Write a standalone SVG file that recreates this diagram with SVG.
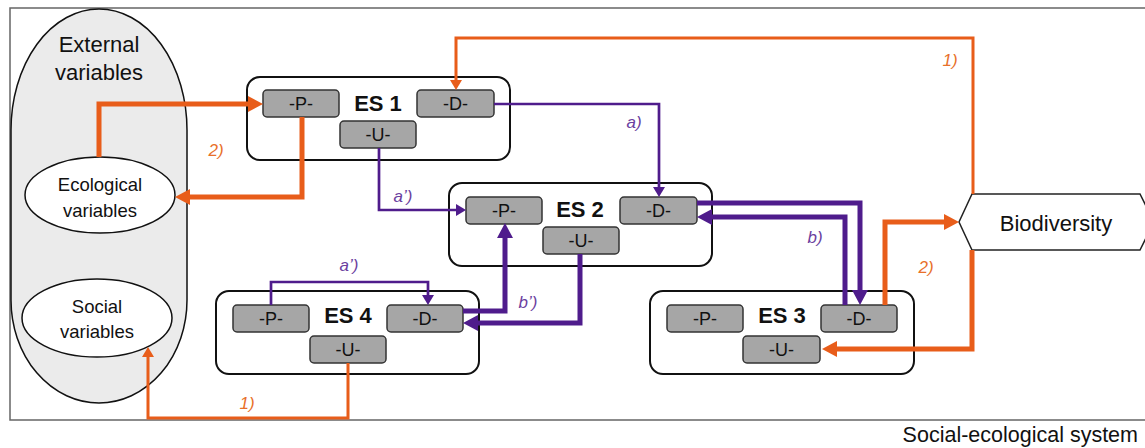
<svg xmlns="http://www.w3.org/2000/svg" width="1145" height="448" viewBox="0 0 1145 448">
<style>
text{font-family:"Liberation Sans",Arial,sans-serif;fill:#111}
.frame{fill:none;stroke:#666;stroke-width:1.5}
.es{fill:#fff;stroke:#111;stroke-width:2}
.sub{fill:#a6a6a6;stroke:#333;stroke-width:1.5}
.subt{font-size:18px;text-anchor:middle}
.est{font-size:22px;font-weight:bold;text-anchor:middle}
.big{font-size:22px;text-anchor:middle}
.mid{font-size:18.5px;text-anchor:middle}
.ell{fill:#fff;stroke:#111;stroke-width:1.5}
.or{fill:none;stroke:#e85d1a;stroke-linejoin:miter}
.pu{fill:none;stroke:#4f1c8c;stroke-linejoin:miter}
.thick{stroke-width:5}
.thin{stroke-width:3}
.pthin{stroke-width:2.7}
.lo{font-size:17px;font-style:italic;fill:#e8702a;text-anchor:middle}
.lp{font-size:17px;font-style:italic;fill:#6b3fa0;text-anchor:middle}
</style>
<defs>
<marker id="oT" markerUnits="userSpaceOnUse" markerWidth="15" markerHeight="16" refX="0" refY="8" orient="auto" overflow="visible"><path d="M0,0 L15,8 L0,16 Z" fill="#e85d1a"/></marker>
<marker id="ot" markerUnits="userSpaceOnUse" markerWidth="10" markerHeight="12" refX="0" refY="6" orient="auto" overflow="visible"><path d="M0,0 L10,6 L0,12 Z" fill="#e85d1a"/></marker>
<marker id="pT" markerUnits="userSpaceOnUse" markerWidth="15" markerHeight="16" refX="0" refY="8" orient="auto" overflow="visible"><path d="M0,0 L15,8 L0,16 Z" fill="#4f1c8c"/></marker>
<marker id="pt" markerUnits="userSpaceOnUse" markerWidth="10" markerHeight="12" refX="0" refY="6" orient="auto" overflow="visible"><path d="M0,0 L10,6 L0,12 Z" fill="#4f1c8c"/></marker>
</defs>
<rect width="1145" height="448" fill="#fff"/>
<g id="frame">
<path class="frame" d="M1145,8 H10 V420 H1145"/>
<text x="1138" y="442" style="font-size:21.5px;text-anchor:end">Social-ecological system</text>
</g>
<g id="external">
<path d="M11,130 A88,121 0 0 1 187,130 V300 A88,103 0 0 1 11,300 Z" fill="#ebebeb" stroke="#111" stroke-width="1.5"/>
<text class="big" x="99" y="52">External</text>
<text class="big" x="99" y="80">variables</text>
</g>
<g id="ecological">
<ellipse class="ell" cx="100" cy="195" rx="75" ry="38"/>
<text class="mid" x="100" y="191">Ecological</text>
<text class="mid" x="100" y="217">variables</text>
</g>
<g id="social">
<ellipse class="ell" cx="97" cy="318" rx="75" ry="39"/>
<text class="mid" x="97" y="313">Social</text>
<text class="mid" x="97" y="338">variables</text>
</g>
<g id="biodiversity">
<polygon points="972,194 1140,194 1154,222 1140,250 972,250 959,222" fill="#fff" stroke="#222" stroke-width="1.5"/>
<text class="big" x="1056" y="231">Biodiversity</text>
</g>
<g id="es1">
<rect class="es" x="247" y="77" width="263" height="83" rx="13"/>
<rect class="sub" x="263" y="90" width="76" height="27" rx="4"/><text class="subt" x="301" y="110">-P-</text>
<rect class="sub" x="417" y="90" width="77" height="27" rx="4"/><text class="subt" x="455.5" y="110">-D-</text>
<rect class="sub" x="340" y="121" width="76" height="27" rx="4"/><text class="subt" x="378" y="141">-U-</text>
<text class="est" x="378" y="111">ES 1</text>
</g>
<g id="es2">
<rect class="es" x="449" y="183" width="263" height="83" rx="13"/>
<rect class="sub" x="466" y="197" width="76" height="27" rx="4"/><text class="subt" x="504" y="217">-P-</text>
<rect class="sub" x="620" y="197" width="77" height="27" rx="4"/><text class="subt" x="658.5" y="217">-D-</text>
<rect class="sub" x="543" y="227" width="76" height="27" rx="4"/><text class="subt" x="581" y="247">-U-</text>
<text class="est" x="580" y="217">ES 2</text>
</g>
<g id="es3">
<rect class="es" x="650" y="291" width="264" height="83" rx="13"/>
<rect class="sub" x="667" y="305" width="76" height="27" rx="4"/><text class="subt" x="705" y="325">-P-</text>
<rect class="sub" x="821" y="305" width="76" height="27" rx="4"/><text class="subt" x="859" y="325">-D-</text>
<rect class="sub" x="743" y="336" width="77" height="27" rx="4"/><text class="subt" x="781.5" y="356">-U-</text>
<text class="est" x="782" y="323">ES 3</text>
</g>
<g id="es4">
<rect class="es" x="216" y="291" width="263" height="83" rx="13"/>
<rect class="sub" x="233" y="305" width="76" height="27" rx="4"/><text class="subt" x="271" y="325">-P-</text>
<rect class="sub" x="387" y="305" width="76" height="27" rx="4"/><text class="subt" x="425" y="325">-D-</text>
<rect class="sub" x="310" y="336" width="76" height="27" rx="4"/><text class="subt" x="348" y="356">-U-</text>
<text class="est" x="348" y="323">ES 4</text>
</g>
<g id="connectors">
<path class="or thick" d="M99,157 V104 H248" marker-end="url(#oT)"/>
<path class="or thick" d="M302,117 V197 H190" marker-end="url(#oT)"/>
<path class="or thick" d="M885,305 V222 H944" marker-end="url(#oT)"/>
<path class="or thick" d="M972,250 V349 H837" marker-end="url(#oT)"/>
<path class="or thin" d="M973,194 V38 H456 V80" marker-end="url(#ot)"/>
<path class="or thin" d="M348,363 V418 H148 V357" marker-end="url(#ot)"/>
<path class="pu pthin" d="M494,104 H659 V187" marker-end="url(#pt)"/>
<path class="pu pthin" d="M379,148 V210 H456" marker-end="url(#pt)"/>
<path class="pu pthin" d="M271,305 V282 H428 V295" marker-end="url(#pt)"/>
<path class="pu thick" d="M463,311 H505 V238" marker-end="url(#pT)"/>
<path class="pu thick" d="M580,254 V323 H478" marker-end="url(#pT)"/>
<path class="pu thick" d="M697,203 H860 V290" marker-end="url(#pT)"/>
<path class="pu thick" d="M845,305 V217 H712" marker-end="url(#pT)"/>
<text class="lo" x="216" y="156">2)</text>
<text class="lo" x="950" y="66">1)</text>
<text class="lo" x="926" y="273">2)</text>
<text class="lo" x="247" y="409">1)</text>
<text class="lp" x="634" y="128">a)</text>
<text class="lp" x="403" y="202">a’)</text>
<text class="lp" x="349" y="271">a’)</text>
<text class="lp" x="528" y="308">b’)</text>
<text class="lp" x="815" y="243">b)</text>
</g>
</svg>
